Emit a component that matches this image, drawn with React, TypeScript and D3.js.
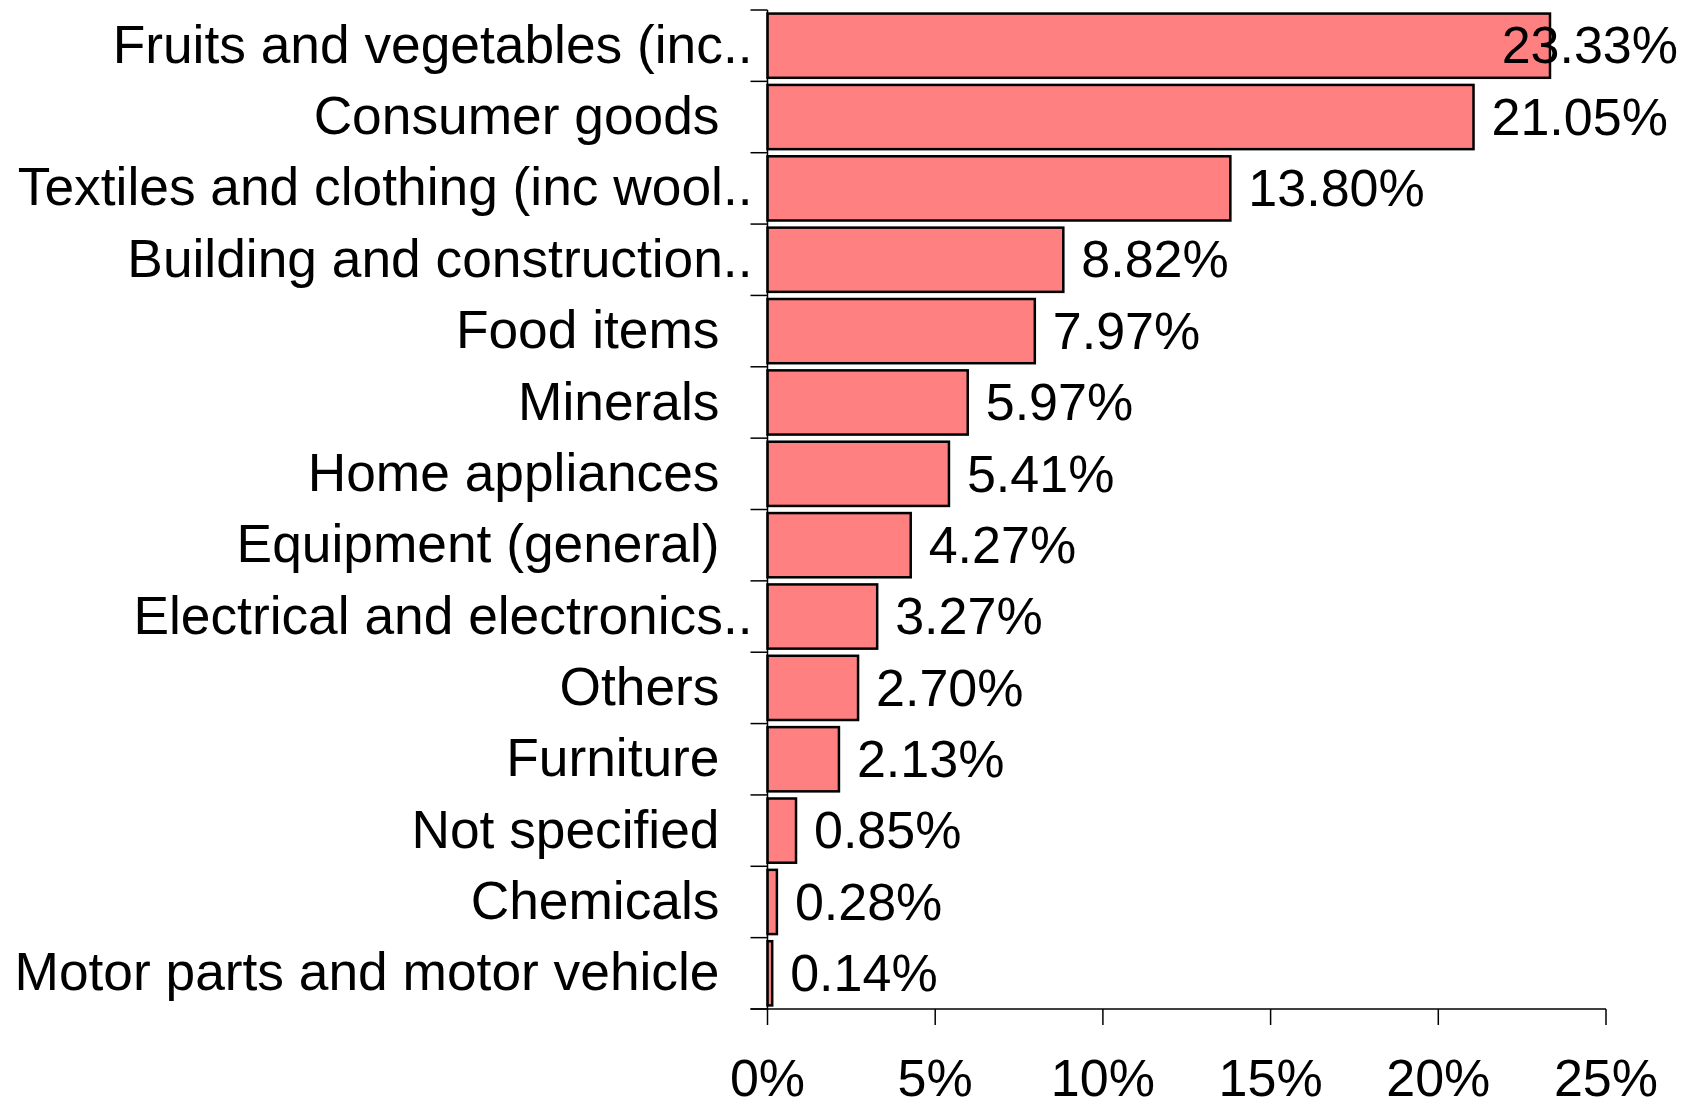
import { useEffect, useRef } from 'react';
import * as d3 from 'd3';

const categories = [
  'Fruits and vegetables (inc..',
  'Consumer goods',
  'Textiles and clothing (inc wool..',
  'Building and construction..',
  'Food items',
  'Minerals',
  'Home appliances',
  'Equipment (general)',
  'Electrical and electronics..',
  'Others',
  'Furniture',
  'Not specified',
  'Chemicals',
  'Motor parts and motor vehicle'
];

const shares = [23.33, 21.05, 13.8, 8.82, 7.97, 5.97, 5.41, 4.27, 3.27, 2.7, 2.13, 0.85, 0.28, 0.14];

const xTicks = [0, 5, 10, 15, 20, 25];

const WIDTH = 1692;
const HEIGHT = 1108;
const FONT = '"Liberation Sans", Arial, sans-serif';

export default function App() {
  const ref = useRef<SVGSVGElement | null>(null);

  useEffect(() => {
    const el = ref.current;
    if (!el) return;
    const svg = d3.select(el);
    svg.selectAll('*').remove();

    const margin = { top: 10, right: 86, bottom: 99, left: 767.5 };
    const innerW = WIDTH - margin.left - margin.right;
    const innerH = HEIGHT - margin.top - margin.bottom;

    const x = d3.scaleLinear().domain([0, 25]).range([0, innerW]);
    const y = d3.scaleBand().domain(categories).range([0, innerH]).paddingInner(0.1).paddingOuter(0.05);

    const g = svg.append('g').attr('transform', `translate(${margin.left},${margin.top})`);

    // category boundary ticks
    const bounds = d3.range(categories.length + 1).map((i) => i * (innerH / categories.length));
    g.selectAll('.ytick')
      .data(bounds)
      .join('line')
      .attr('x1', -17)
      .attr('x2', 0)
      .attr('y1', (d) => d)
      .attr('y2', (d) => d)
      .attr('stroke', '#000')
      .attr('stroke-width', 1.5);

    // bars
    const rows = categories.map((c, i) => ({ label: c, value: shares[i] }));
    g.selectAll('.bar')
      .data(rows)
      .join('rect')
      .attr('x', 0)
      .attr('y', (d) => y(d.label) ?? 0)
      .attr('width', (d) => x(d.value))
      .attr('height', y.bandwidth())
      .attr('fill', '#ff8080')
      .attr('stroke', '#000')
      .attr('stroke-width', 2.5);

    // axis lines
    g.append('line')
      .attr('x1', 0).attr('x2', 0)
      .attr('y1', 0).attr('y2', innerH)
      .attr('stroke', '#000').attr('stroke-width', 1.5);
    g.append('line')
      .attr('x1', -17).attr('x2', innerW)
      .attr('y1', innerH).attr('y2', innerH)
      .attr('stroke', '#000').attr('stroke-width', 1.5);

    // x ticks
    g.selectAll('.xtick')
      .data(xTicks)
      .join('line')
      .attr('x1', (d) => x(d))
      .attr('x2', (d) => x(d))
      .attr('y1', innerH)
      .attr('y2', innerH + 16)
      .attr('stroke', '#000')
      .attr('stroke-width', 1.5);
    g.selectAll('.xlabel')
      .data(xTicks)
      .join('text')
      .attr('x', (d) => x(d))
      .attr('y', innerH + 87)
      .attr('text-anchor', 'middle')
      .attr('font-family', FONT)
      .attr('font-size', 52)
      .attr('fill', '#000')
      .text((d) => `${d}%`);

    // category labels
    g.selectAll('.clabel')
      .data(rows)
      .join('text')
      .attr('x', (d) => (d.label.endsWith('..') ? -15 : -48))
      .attr('y', (d) => (y(d.label) ?? 0) + y.bandwidth() / 2)
      .attr('dy', '0.32em')
      .attr('text-anchor', 'end')
      .attr('font-family', FONT)
      .attr('font-size', 53.3)
      .attr('fill', '#000')
      .text((d) => d.label);

    // value labels, kept inside the right edge
    const maxRight = WIDTH - 14 - margin.left;
    g.selectAll('.vlabel')
      .data(rows)
      .join('text')
      .attr('y', (d) => (y(d.label) ?? 0) + y.bandwidth() / 2)
      .attr('dy', '0.34em')
      .attr('font-family', FONT)
      .attr('font-size', 52)
      .attr('fill', '#000')
      .text((d) => `${d.value.toFixed(2)}%`)
      .each(function (d) {
        const node = this as SVGTextElement;
        const w = node.getComputedTextLength();
        d3.select(node).attr('x', Math.min(x(d.value) + 18, maxRight - w));
      });
  }, []);

  return (
    <svg
      ref={ref}
      width={WIDTH}
      height={HEIGHT}
      style={{ position: 'absolute', left: 0, top: 0, background: '#fff' }}
    />
  );
}
